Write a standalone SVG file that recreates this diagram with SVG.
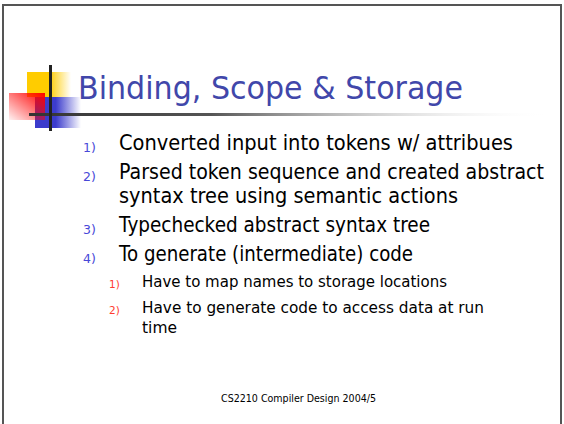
<svg xmlns="http://www.w3.org/2000/svg" width="564" height="424" viewBox="0 0 564 424">
  <defs>
    <linearGradient id="yellowFade" x1="0" y1="0" x2="1" y2="0">
      <stop offset="0" stop-color="#ffcc00"/>
      <stop offset="0.5" stop-color="#ffcc00"/>
      <stop offset="1" stop-color="#ffcc00" stop-opacity="0"/>
    </linearGradient>
    <linearGradient id="blueFade" x1="0" y1="0" x2="1" y2="0">
      <stop offset="0" stop-color="#3c3ccc"/>
      <stop offset="0.45" stop-color="#3c3ccc"/>
      <stop offset="1" stop-color="#3c3ccc" stop-opacity="0"/>
    </linearGradient>
    <linearGradient id="redFade" x1="1" y1="0" x2="0" y2="1">
      <stop offset="0" stop-color="#ff0000"/>
      <stop offset="1" stop-color="#ff0000" stop-opacity="0.05"/>
    </linearGradient>
    <linearGradient id="ruleFade" x1="0" y1="0" x2="1" y2="0">
      <stop offset="0" stop-color="#333333"/>
      <stop offset="0.35" stop-color="#555555"/>
      <stop offset="1" stop-color="#ffffff" stop-opacity="0"/>
    </linearGradient>
  </defs>
  <style>
    .title { font-family: Tahoma, "DejaVu Sans", sans-serif; font-size: 32px; fill: #4147aa; }
    .item { font-family: Tahoma, "DejaVu Sans", sans-serif; font-size: 20.5px; fill: #000000; }
    .sub { font-family: Tahoma, "DejaVu Sans", sans-serif; font-size: 16px; fill: #000000; }
    .num { font-family: Tahoma, "DejaVu Sans", sans-serif; font-size: 12.5px; fill: #4848d8; }
    .subnum { font-family: Tahoma, "DejaVu Sans", sans-serif; font-size: 10.5px; fill: #ff3b2f; }
    .foot { font-family: Tahoma, "DejaVu Sans", sans-serif; font-size: 10px; fill: #000000; }
  </style>

  <rect x="0" y="0" width="564" height="424" fill="#ffffff"/>
  <!-- slide frame -->
  <path d="M3,430 V5 H561 V430" fill="none" stroke="#555555" stroke-width="2"/>

  <!-- title decoration -->
  <g id="logo">
    <rect x="27" y="72" width="44" height="25" fill="url(#yellowFade)"/>
    <rect x="35" y="97" width="46" height="31" fill="url(#blueFade)"/>
    <rect x="9" y="93" width="36" height="27" fill="url(#redFade)"/>
    <rect x="29" y="113" width="521" height="3" fill="url(#ruleFade)"/>
    <rect x="49" y="65" width="3" height="66" fill="#222222"/>
  </g>

  <text id="title" class="title" x="78" y="99" textLength="385" lengthAdjust="spacingAndGlyphs">Binding, Scope &amp; Storage</text>

  <g id="items">
    <text class="num" x="83" y="152">1)</text>
    <text class="item" x="119" y="150" textLength="394" lengthAdjust="spacingAndGlyphs">Converted input into tokens w/ attribues</text>
    <text class="num" x="83" y="181">2)</text>
    <text class="item" x="119" y="179" textLength="425" lengthAdjust="spacingAndGlyphs">Parsed token sequence and created abstract</text>
    <text class="item" x="119" y="203" textLength="339" lengthAdjust="spacingAndGlyphs">syntax tree using semantic actions</text>
    <text class="num" x="83" y="234">3)</text>
    <text class="item" x="119" y="232" textLength="311" lengthAdjust="spacingAndGlyphs">Typechecked abstract syntax tree</text>
    <text class="num" x="83" y="263">4)</text>
    <text class="item" x="119" y="261" textLength="294" lengthAdjust="spacingAndGlyphs">To generate (intermediate) code</text>
    <text class="subnum" x="109" y="288">1)</text>
    <text class="sub" x="142" y="287" textLength="305" lengthAdjust="spacingAndGlyphs">Have to map names to storage locations</text>
    <text class="subnum" x="109" y="314">2)</text>
    <text class="sub" x="142" y="313" textLength="342" lengthAdjust="spacingAndGlyphs">Have to generate code to access data at run</text>
    <text class="sub" x="142" y="333" textLength="35" lengthAdjust="spacingAndGlyphs">time</text>
  </g>

  <text id="footer" class="foot" x="221" y="402" textLength="155" lengthAdjust="spacingAndGlyphs">CS2210 Compiler Design 2004/5</text>
</svg>
